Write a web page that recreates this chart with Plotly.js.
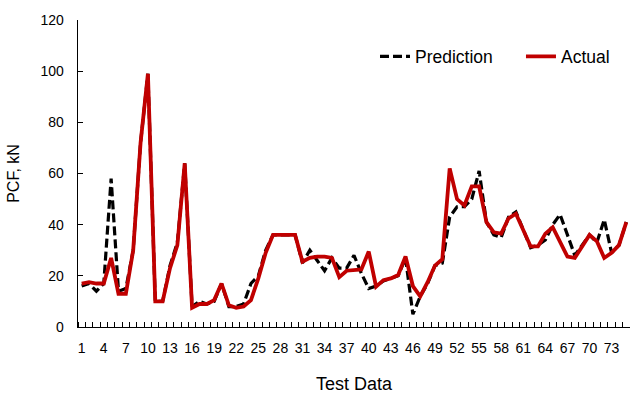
<!DOCTYPE html>
<html>
<head>
<meta charset="utf-8">
<script src="https://cdn.plot.ly/plotly-3.0.1.min.js"></script>
<style>html,body{margin:0;padding:0;background:#fff;}#chart{width:630px;height:394px;}</style>
</head>
<body>
<div id="chart"></div>
<script>
// Test data index 1..75
const testData = Array.from({length: 75}, (_, i) => i + 1);
const tickLabels = [1,4,7,10,13,16,19,22,25,28,31,34,37,40,43,46,49,52,55,58,61,64,67,70,73];

const prediction = [
  16, 17, 14, 17, 58, 14, 15, 30, 72, 99,
  10, 10, 24, 33, 64, 8, 10, 9, 10, 17,
  8, 8, 9, 17, 20, 30, 36, 36, 36, 36,
  25, 30, 26, 22, 27, 23, 23, 28, 21, 15,
  16, 18, 19, 20, 27, 5, 12, 17, 24, 25,
  43, 47, 47, 50, 61, 41, 36, 35, 43, 45,
  38, 31, 32, 34, 40, 44, 36, 28, 32, 36,
  33, 42, 29, 32, 41
];
const actual = [
  17, 17.5, 17, 17, 27, 13, 13, 30, 72, 99,
  10, 10, 23, 32, 64, 7.5, 9, 9, 10.5, 17,
  8.5, 7.5, 8, 10.5, 19, 29, 36, 36, 36, 36,
  25.5, 27, 27.5, 27.5, 27, 19.5, 22, 22.3, 22.5, 29.5,
  15.8, 18.3, 19, 20.3, 27.6, 16, 12, 17.5, 24, 26.5,
  62, 50, 47.5, 55, 55, 41, 37, 36.5, 42.5, 44.3,
  38, 31.5, 31.5, 36.5, 39, 33.5, 27.5, 27, 31.5, 36,
  33.5, 27, 29, 32, 41
];

const font = 'Liberation Sans, Arial, sans-serif';

Plotly.newPlot('chart', [
  {
    x: testData, y: prediction, name: 'Prediction', type: 'scatter', mode: 'lines',
    line: {color: '#000000', width: 3.2, dash: '9px,4px'}
  },
  {
    x: testData, y: actual, name: 'Actual', type: 'scatter', mode: 'lines',
    line: {color: '#C00000', width: 3.8}
  }
], {
  width: 630, height: 394,
  margin: {l: 78, r: 0, t: 20, b: 67, autoexpand: false},
  paper_bgcolor: '#ffffff', plot_bgcolor: '#ffffff',
  font: {family: font, color: '#000000', size: 14},
  showlegend: true,
  legend: {
    orientation: 'h', x: 0.538, y: 0.94, xanchor: 'left', yanchor: 'top',
    entrywidth: 101, entrywidthmode: 'pixels',
    font: {family: font, size: 17.5, color: '#000000'},
    bgcolor: 'rgba(0,0,0,0)'
  },
  xaxis: {
    type: 'linear', range: [0.5, 75.5],
    tickmode: 'array', tickvals: tickLabels, ticktext: tickLabels.map(String),
    ticks: '', showgrid: false, zeroline: false, ticklabelstandoff: 8,
    showline: true, linecolor: '#000000', linewidth: 1.3,
    tickfont: {family: font, size: 14, color: '#000000'},
    minor: {tickmode: 'linear', tick0: 0.5, dtick: 1, ticks: 'inside', ticklen: 5, tickcolor: '#000000', tickwidth: 1, showgrid: false},
    title: {text: 'Test Data', font: {family: font, size: 18, color: '#000000'}, standoff: 22}
  },
  yaxis: {
    range: [0, 120], tickmode: 'linear', tick0: 0, dtick: 20,
    ticks: 'inside', ticklen: 5, tickcolor: '#000000', tickwidth: 1,
    showgrid: false, zeroline: false, ticklabelstandoff: 10,
    showline: true, linecolor: '#000000', linewidth: 1.3,
    tickfont: {family: font, size: 14, color: '#000000'},
    title: {text: 'PCF, kN', font: {family: font, size: 16, color: '#000000'}, standoff: 17}
  }
}, {displayModeBar: false, staticPlot: true});
</script>
</body>
</html>
